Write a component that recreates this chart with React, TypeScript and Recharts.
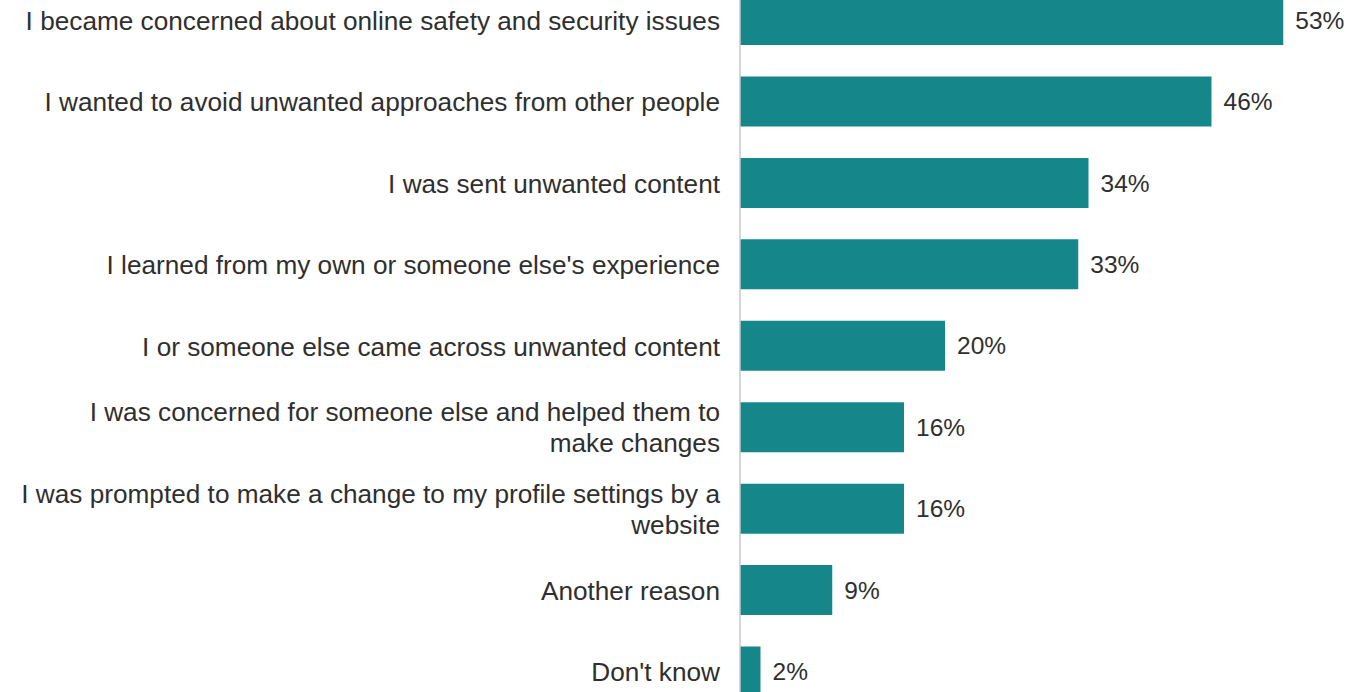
import { BarChart, Bar, XAxis, YAxis, LabelList } from 'recharts';

const categories = [
  'I became concerned about online safety and security issues',
  'I wanted to avoid unwanted approaches from other people',
  'I was sent unwanted content',
  "I learned from my own or someone else's experience",
  'I or someone else came across unwanted content',
  'I was concerned for someone else and helped them to\nmake changes',
  'I was prompted to make a change to my profile settings by a\nwebsite',
  'Another reason',
  "Don't know",
];

const values = [53, 46, 34, 33, 20, 16, 16, 9, 2];

const data = categories.map((label, i) => ({ label, value: values[i] }));

const TEXT = '#2f2f2f';
const FONT = '"Liberation Sans", Arial, sans-serif';

// multi-line category labels, right aligned against the axis
function CategoryTick({ x, y, payload }: any) {
  const lines = String(payload.value).split('\n');
  const lineHeight = 31;
  const start = -((lines.length - 1) * lineHeight) / 2 + 10;
  return (
    <text x={x} y={y} textAnchor="end" fill={TEXT} fontSize={26.2} fontFamily={FONT}>
      {lines.map((line, i) => (
        <tspan key={i} x={x} y={y + start + i * lineHeight}>
          {line}
        </tspan>
      ))}
    </text>
  );
}

export default function App() {
  return (
    <div style={{ position: 'fixed', top: 0, left: 0, width: 1371, height: 692, overflow: 'hidden', background: '#fff' }}>
      <div style={{ position: 'absolute', top: -21.5, left: 0 }}>
        <BarChart
          layout="vertical"
          width={1371}
          height={733}
          data={data}
          margin={{ top: 0, right: 16, left: 0, bottom: 0 }}
        >
          <XAxis type="number" domain={[0, 60]} hide />
          <YAxis
            type="category"
            dataKey="label"
            width={740}
            axisLine={{ stroke: '#c9c9c9', strokeWidth: 1.5 }}
            tickLine={false}
            tickSize={0}
            tickMargin={20}
            tick={<CategoryTick />}
            interval={0}
          />
          <Bar dataKey="value" fill="#15878A" barSize={50} isAnimationActive={false}>
            <LabelList
              dataKey="value"
              position="right"
              offset={12}
              fill={TEXT}
              fontSize={24.5}
              fontFamily={FONT}
              formatter={(v: any) => `${v}%`}
            />
          </Bar>
        </BarChart>
      </div>
    </div>
  );
}
